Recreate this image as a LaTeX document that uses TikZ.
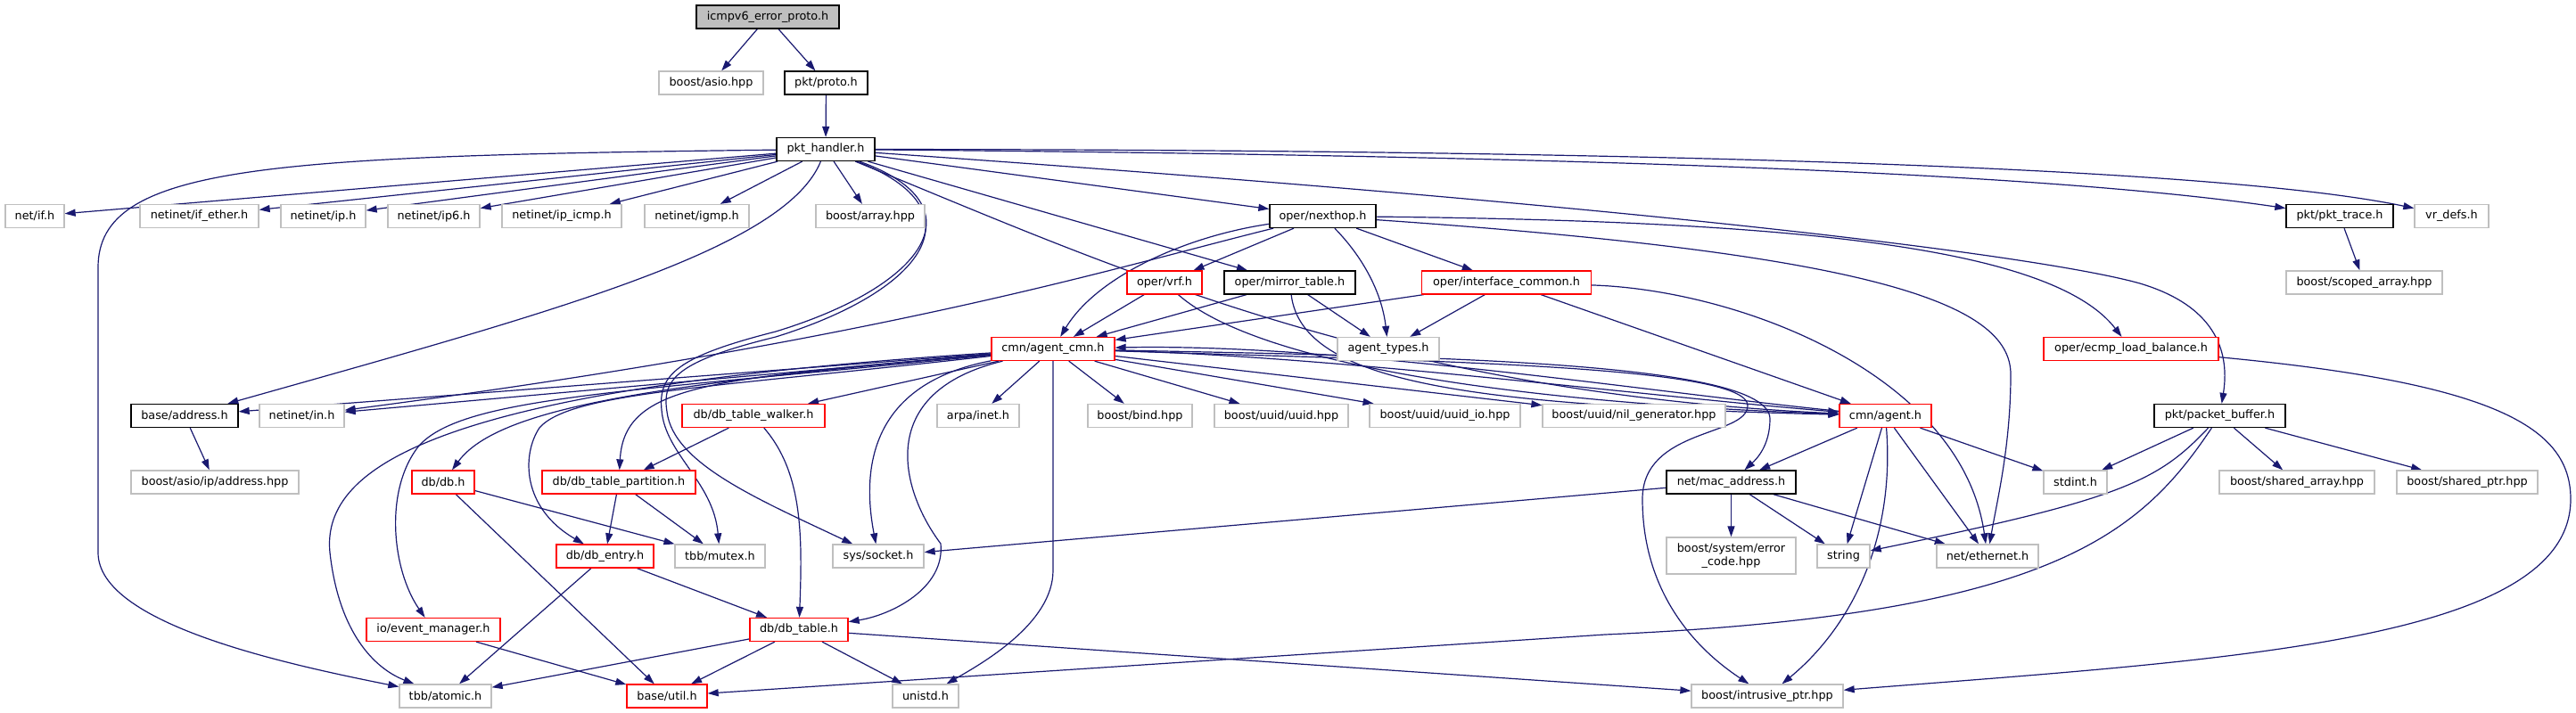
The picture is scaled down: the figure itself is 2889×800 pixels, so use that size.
\documentclass[tikz,border=0pt]{standalone}
\usepackage{fontspec}
\setmainfont{DejaVu Sans}
\usetikzlibrary{arrows.meta}
\definecolor{cedge}{HTML}{191970}
\definecolor{cred}{HTML}{FF0000}
\definecolor{cgrey}{HTML}{BFBFBF}
\pgfdeclarelayer{bgl}
\pgfdeclarelayer{edl}
\pgfsetlayers{bgl,edl,main}
\begin{document}
\begin{tikzpicture}[x=1pt,y=-1pt,
  nd/.style={draw, line width=1.3pt, minimum height=26pt, inner sep=0pt, fill=white,
             font=\fontsize{12.8}{15}\selectfont, align=center},
  gy/.style={nd, draw=cgrey},
  bk/.style={nd, draw=black},
  rd/.style={nd, draw=cred},
  ed/.style={draw=cedge, line width=1.2pt, -{Triangle[length=12pt,width=8pt]}}]
\begin{pgfonlayer}{bgl}
\fill[white] (0,0) rectangle (2889,800);
\end{pgfonlayer}
\useasboundingbox (0,0) rectangle (2889,800);

% level 0-2
\node[bk, fill=cgrey, minimum width=160pt] (icmp) at (861,19) {icmpv6\_error\_proto.h};
\node[gy, minimum width=117pt] (asio) at (797.5,93) {boost/asio.hpp};
\node[bk, minimum width=93pt] (proto) at (926.5,93) {pkt/proto.h};
\node[bk, minimum width=110pt] (pkth) at (926,167.5) {pkt\_handler.h};
% level 3
\node[gy, minimum width=66pt] (netif) at (39,242.5) {net/if.h};
\node[gy, minimum width=133pt] (ifether) at (223.5,242.5) {netinet/if\_ether.h};
\node[gy, minimum width=95pt] (ip) at (362.5,242.5) {netinet/ip.h};
\node[gy, minimum width=103pt] (ip6) at (486.5,242.5) {netinet/ip6.h};
\node[gy, minimum width=134pt] (ipicmp) at (630,242.5) {netinet/ip\_icmp.h};
\node[gy, minimum width=117pt] (igmp) at (781.5,242.5) {netinet/igmp.h};
\node[gy, minimum width=122pt] (array) at (976,242.5) {boost/array.hpp};
\node[bk, minimum width=119pt] (nexthop) at (1483.5,242.5) {oper/nexthop.h};
\node[bk, minimum width=120pt] (pkttrace) at (2624,242.5) {pkt/pkt\_trace.h};
\node[gy, minimum width=83pt] (vrdefs) at (2749.5,242.5) {vr\_defs.h};
% level 4
\node[rd, minimum width=84pt] (vrf) at (1306,317) {oper/vrf.h};
\node[bk, minimum width=147pt] (mirror) at (1446.5,317) {oper/mirror\_table.h};
\node[rd, minimum width=190pt] (ifcommon) at (1689.5,317) {oper/interface\_common.h};
\node[gy, minimum width=175pt] (scoped) at (2651.5,317) {boost/scoped\_array.hpp};
% level 5
\node[rd, minimum width=138pt] (agentcmn) at (1181,391.5) {cmn/agent\_cmn.h};
\node[gy, minimum width=114pt] (agenttypes) at (1557,391.5) {agent\_types.h};
\node[rd, minimum width=196pt] (ecmp) at (2390,391.5) {oper/ecmp\_load\_balance.h};
% level 6
\node[bk, minimum width=120pt] (address) at (207,466.5) {base/address.h};
\node[gy, minimum width=95pt] (netinetin) at (338.5,466.5) {netinet/in.h};
\node[rd, minimum width=160pt] (walker) at (845,466.5) {db/db\_table\_walker.h};
\node[gy, minimum width=92pt] (arpa) at (1097,466.5) {arpa/inet.h};
\node[gy, minimum width=117pt] (bind) at (1278.5,466.5) {boost/bind.hpp};
\node[gy, minimum width=150pt] (uuid) at (1437,466.5) {boost/uuid/uuid.hpp};
\node[gy, minimum width=169pt] (uuidio) at (1620.5,466.5) {boost/uuid/uuid\_io.hpp};
\node[gy, minimum width=205pt] (nilgen) at (1832.5,466.5) {boost/uuid/nil\_generator.hpp};
\node[rd, minimum width=103pt] (agent) at (2114.5,466.5) {cmn/agent.h};
\node[bk, minimum width=147pt] (pbuf) at (2489.5,466.5) {pkt/packet\_buffer.h};
% level 7
\node[gy, minimum width=188pt] (ipaddr) at (241,541) {boost/asio/ip/address.hpp};
\node[rd, minimum width=70pt] (dbh) at (497,541) {db/db.h};
\node[rd, minimum width=172pt] (partition) at (694,541) {db/db\_table\_partition.h};
\node[bk, minimum width=145pt] (macaddr) at (1941.5,541) {net/mac\_address.h};
\node[gy, minimum width=71pt] (stdint) at (2327.5,541) {stdint.h};
\node[gy, minimum width=174pt] (sharedarray) at (2576,541) {boost/shared\_array.hpp};
\node[gy, minimum width=158pt] (sharedptr) at (2767,541) {boost/shared\_ptr.hpp};
% level 8
\node[rd, minimum width=109pt] (entry) at (678.5,624) {db/db\_entry.h};
\node[gy, minimum width=101pt] (mutex) at (807.5,624) {tbb/mutex.h};
\node[gy, minimum width=102pt] (socket) at (985,624) {sys/socket.h};
\node[gy, minimum width=145pt, minimum height=41pt] (errorcode) at (1941.5,623.5) {boost/system/error\\\_code.hpp};
\node[gy, minimum width=59pt] (string) at (2067.5,624) {string};
\node[gy, minimum width=114pt] (ethernet) at (2229,624) {net/ethernet.h};
% level 9
\node[rd, minimum width=150pt] (eventmgr) at (486,706.5) {io/event\_manager.h};
\node[rd, minimum width=110pt] (dbtable) at (896,706.5) {db/db\_table.h};
% level 10
\node[gy, minimum width=103pt] (atomic) at (499.5,781) {tbb/atomic.h};
\node[rd, minimum width=90pt] (util) at (748,781) {base/util.h};
\node[gy, minimum width=74pt] (unistd) at (1038,781) {unistd.h};
\node[gy, minimum width=170pt] (intrusive) at (1982,781) {boost/intrusive\_ptr.hpp};

\begin{pgfonlayer}{edl}
\draw[ed] (icmp) -- (asio);
\draw[ed] (icmp) -- (proto);
\draw[ed] (proto) -- (pkth);
% pkt_handler
\draw[ed] (pkth) -- (netif);
\draw[ed] (pkth) .. controls (300,175) and (110,185) .. (110,300) -- (110,620) .. controls (110,700) and (320,745) .. (atomic);
\draw[ed] (pkth) -- (ifether);
\draw[ed] (pkth) -- (ip);
\draw[ed] (pkth) -- (ip6);
\draw[ed] (pkth) -- (ipicmp);
\draw[ed] (pkth) -- (igmp);
\draw[ed] (pkth) -- (array);
\draw[ed] (pkth) .. controls (880,280) and (620,350) .. (address);
\draw[ed] (pkth) .. controls (1100,230) and (1040,320) .. (870,372) .. controls (760,400) and (738,420) .. (742,460) .. controls (746,510) and (800,540) .. (mutex);
\draw[ed] (pkth) .. controls (1100,235) and (1040,325) .. (870,378) .. controls (760,405) and (742,425) .. (748,462) .. controls (755,520) and (850,560) .. (socket);
\draw[ed] (pkth) -- (nexthop);
\draw[ed] (pkth) -- (mirror);
\draw[ed] (pkth) .. controls (1250,300) and (1550,440) .. (agent);
\draw[ed] (pkth) .. controls (1800,175) and (2300,195) .. (pkttrace);
\draw[ed] (pkth) .. controls (1900,168) and (2500,190) .. (vrdefs);
\draw[ed] (pkth) .. controls (1900,235) and (2300,290) .. (2400,318) .. controls (2490,345) and (2500,400) .. (pbuf);
\draw[ed] (pkttrace) -- (scoped);
% nexthop
\draw[ed] (nexthop) -- (vrf);
\draw[ed] (nexthop) .. controls (1330,265) and (1230,310) .. (agentcmn);
\draw[ed] (nexthop) .. controls (1530,290) and (1550,330) .. (agenttypes);
\draw[ed] (nexthop) -- (ifcommon);
\draw[ed] (nexthop) .. controls (2000,248) and (2300,275) .. (ecmp);
\draw[ed] (nexthop) .. controls (2100,285) and (2255,340) .. (2255,420) .. controls (2255,500) and (2240,560) .. (ethernet);
\draw[ed] (nexthop) .. controls (1250,300) and (1000,380) .. (netinetin);
% vrf, mirror, interface_common
\draw[ed] (vrf) -- (agentcmn);
\draw[ed] (vrf) .. controls (1400,400) and (1650,450) .. (agent);
\draw[ed] (mirror) -- (agentcmn);
\draw[ed] (mirror) -- (agenttypes);
\draw[ed] (mirror) .. controls (1460,430) and (1650,455) .. (agent);
\draw[ed] (ifcommon) -- (agentcmn);
\draw[ed] (ifcommon) -- (agenttypes);
\draw[ed] (ifcommon) -- (agent);
\draw[ed] (ifcommon) .. controls (1950,325) and (2200,420) .. (ethernet);
% agent_cmn
\draw[ed] (agentcmn) -- (address);
\draw[ed] (agentcmn) -- (netinetin);
\draw[ed] (agentcmn) -- (walker);
\draw[ed] (agentcmn) .. controls (750,430) and (560,455) .. (dbh);
\draw[ed] (agentcmn) .. controls (800,425) and (700,430) .. (partition);
\draw[ed] (agentcmn) .. controls (800,435) and (640,440) .. (605,480) .. controls (585,510) and (585,570) .. (entry);
\draw[ed] (agentcmn) .. controls (700,440) and (520,445) .. (470,500) .. controls (430,550) and (440,640) .. (eventmgr);
\draw[ed] (agentcmn) .. controls (500,435) and (360,520) .. (370,620) .. controls (380,710) and (420,750) .. (atomic);
\draw[ed] (agentcmn) -- (arpa);
\draw[ed] (agentcmn) -- (bind);
\draw[ed] (agentcmn) -- (uuid);
\draw[ed] (agentcmn) -- (uuidio);
\draw[ed] (agentcmn) -- (nilgen);
\draw[ed] (agentcmn) .. controls (1500,400) and (1850,445) .. (agent);
\draw[ed] (agent) .. controls (1850,440) and (1500,385) .. (agentcmn);
\draw[ed] (agentcmn) .. controls (980,430) and (965,520) .. (socket);
\draw[ed] (agentcmn) .. controls (980,440) and (1010,550) .. (1055,610) .. controls (1060,660) and (1000,690) .. (dbtable);
\draw[ed] (agentcmn) -- (1181,640) .. controls (1181,700) and (1100,745) .. (unistd);
\draw[ed] (agentcmn) .. controls (1600,405) and (1960,410) .. (1960,455) .. controls (1960,490) and (1842,480) .. (1842,560) .. controls (1842,680) and (1920,740) .. (intrusive);
\draw[ed] (agentcmn) .. controls (1600,400) and (1985,405) .. (1985,470) .. controls (1985,500) and (1970,515) .. (macaddr);
% agent
\draw[ed] (agent) -- (macaddr);
\draw[ed] (agent) -- (string);
\draw[ed] (agent) .. controls (2125,600) and (2080,700) .. (intrusive);
\draw[ed] (agent) -- (ethernet);
\draw[ed] (agent) -- (stdint);
% mac_address
\draw[ed] (macaddr) -- (socket);
\draw[ed] (macaddr) -- (errorcode);
\draw[ed] (macaddr) -- (string);
\draw[ed] (macaddr) -- (ethernet);
% packet_buffer
\draw[ed] (pbuf) -- (stdint);
\draw[ed] (pbuf) .. controls (2420,540) and (2380,560) .. (string);
\draw[ed] (pbuf) -- (sharedarray);
\draw[ed] (pbuf) -- (sharedptr);
\draw[ed] (pbuf) .. controls (2400,600) and (2300,690) .. (1800,712) -- (util);
% address
\draw[ed] (address) -- (ipaddr);
% db
\draw[ed] (walker) -- (partition);
\draw[ed] (walker) .. controls (900,530) and (900,600) .. (dbtable);
\draw[ed] (dbh) -- (mutex);
\draw[ed] (dbh) -- (util);
\draw[ed] (partition) -- (entry);
\draw[ed] (partition) -- (mutex);
\draw[ed] (entry) -- (dbtable);
\draw[ed] (entry) -- (atomic);
\draw[ed] (eventmgr) -- (util);
\draw[ed] (dbtable) -- (atomic);
\draw[ed] (dbtable) -- (util);
\draw[ed] (dbtable) -- (unistd);
\draw[ed] (dbtable) -- (intrusive);
\draw[ed] (ecmp) .. controls (2800,430) and (2883,480) .. (2883,560) .. controls (2883,720) and (2500,740) .. (intrusive);
\end{pgfonlayer}
\end{tikzpicture}
\end{document}
